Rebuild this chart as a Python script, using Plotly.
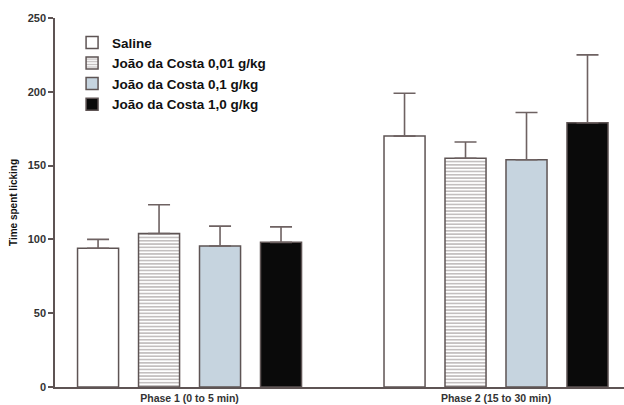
import plotly.graph_objects as go

phases = ["Phase 1 (0 to 5 min)", "Phase 2 (15 to 30 min)"]
series_names = ["Saline", "João da Costa 0,01 g/kg", "João da Costa 0,1 g/kg", "João da Costa 1,0 g/kg"]
saline = [94, 170]
dose_001 = [104, 155]
dose_01 = [95.5, 154]
dose_10 = [98, 179]
saline_err = [6, 29]
dose_001_err = [19.5, 11]
dose_01_err = [13.5, 32]
dose_10_err = [10.5, 46]
y_ticks = [0, 50, 100, 150, 200, 250]

values = [saline, dose_001, dose_01, dose_10]
errors = [saline_err, dose_001_err, dose_01_err, dose_10_err]
fills = ["#ffffff", "#ffffff", "#c6d4df", "#0a0a0a"]
patterns = [None, dict(shape="-", fgcolor="#7a7070", bgcolor="#ffffff", size=3.3, solidity=0.45), None, None]

edge = "#5e5454"
fig = go.Figure()
for name, v, e, fc, pat in zip(series_names, values, errors, fills, patterns):
    marker = dict(color=fc, line=dict(color=edge, width=1.5))
    if pat:
        marker["pattern"] = pat
    fig.add_trace(go.Bar(
        x=phases, y=v, name=name, marker=marker,
        error_y=dict(type="data", array=e, symmetric=False, arrayminus=[0, 0],
                     color="#6e6262", thickness=1.6, width=11),
    ))

fig.update_layout(
    width=624, height=405,
    barmode="group", bargap=0.204, bargroupgap=0.327,
    plot_bgcolor="white", paper_bgcolor="white",
    margin=dict(l=55, r=0, t=18, b=18, autoexpand=False),
    font=dict(family="Liberation Sans, Arial, sans-serif", color="#222222"),
    legend=dict(x=0.03, y=0.975, xanchor="left", yanchor="top",
                font=dict(size=13.5, weight="bold", color="#111111"),
                bgcolor="rgba(0,0,0,0)", tracegroupgap=0, itemwidth=30),
    showlegend=True,
)
fig.update_xaxes(
    type="category", range=[-0.439, 1.4176], automargin=False,
    showline=True, linecolor=edge, linewidth=1.5,
    ticks="", tickfont=dict(size=10.5, weight="bold", color="#333333"),
    ticklabelstandoff=1, showgrid=False,
)
fig.update_yaxes(
    range=[0, 250], tickvals=y_ticks, automargin=False,
    showline=True, linecolor=edge, linewidth=1.5,
    ticks="outside", ticklen=5, tickcolor=edge, tickwidth=1.5,
    tickfont=dict(size=11, weight="bold", color="#333333"),
    showgrid=False, zeroline=False,
    title=dict(text="Time spent licking", font=dict(size=10, weight="bold", color="#111111"), standoff=8),
)
fig.write_html("out.html", config={"displayModeBar": False},
               post_script="document.body.style.margin='0';")
